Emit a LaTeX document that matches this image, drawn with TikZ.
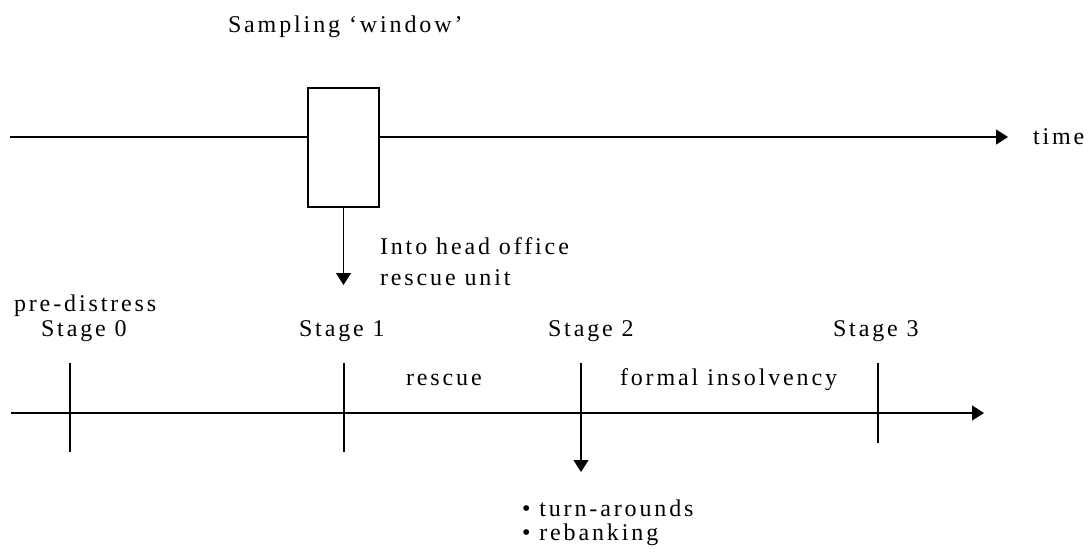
\documentclass[tikz,border=0pt]{standalone}
\usepackage{fontspec}
\setmainfont{Liberation Serif}[LetterSpace=12]
\usetikzlibrary{arrows.meta}
\tikzset{
  lbl/.style={anchor=base west, inner sep=0pt, outer sep=0pt, font=\fontsize{24}{28}\selectfont},
  ln/.style={line width=1.3pt, draw=black},
  arr/.style={ln, -{Triangle[width=15pt,length=12pt]}},
  win/.style={draw=black, line width=1.3pt, minimum width=71pt, minimum height=119pt, inner sep=0pt},
}
\begin{document}
\begin{tikzpicture}[x=1pt,y=-1pt]
\useasboundingbox (0,0) rectangle (1091,552);
% top timeline
\coordinate (tl) at (10,137);
\coordinate (tr) at (1008,137);
\node[win] (box) at (343.5,147.5) {};
\draw[ln] (tl) -- (tl -| box.west);
\draw[arr] (tr -| box.east) -- (tr);
\node[lbl] (time) at (1033,144) {time};
\node[lbl] (samp) at (228,32) {Sampling ‘window’};
\coordinate (d1) at (343.5,285);
\draw[arr] (box.south) -- (d1);
\node[lbl] (into) at (380,254) {Into head office};
\node[lbl] (unit) at (380,285) {rescue unit};
% lower timeline
\coordinate (bl) at (11,413);
\coordinate (br) at (984,413);
\draw[arr] (bl) -- (br);
\coordinate (t0a) at (70,363); \coordinate (t0b) at (70,452);
\coordinate (t1a) at (344,363); \coordinate (t1b) at (344,452);
\coordinate (t2a) at (581,363); \coordinate (t2b) at (581,472);
\coordinate (t3a) at (878,363); \coordinate (t3b) at (878,443);
\draw[ln] (t0a) -- (t0b);
\draw[ln] (t1a) -- (t1b);
\draw[arr] (t2a) -- (t2b);
\draw[ln] (t3a) -- (t3b);
\node[lbl] (pre) at (14,311) {pre-distress};
\node[lbl] (s0) at (41,336) {Stage 0};
\node[lbl] (s1) at (299,336) {Stage 1};
\node[lbl] (s2) at (548,336) {Stage 2};
\node[lbl] (s3) at (833,336) {Stage 3};
\node[lbl] (resc) at (406,385) {rescue};
\node[lbl] (form) at (620,385) {formal insolvency};
\node[lbl] (b1) at (522,516) {• turn-arounds};
\node[lbl] (b2) at (522,540) {• rebanking};
\end{tikzpicture}
\end{document}
